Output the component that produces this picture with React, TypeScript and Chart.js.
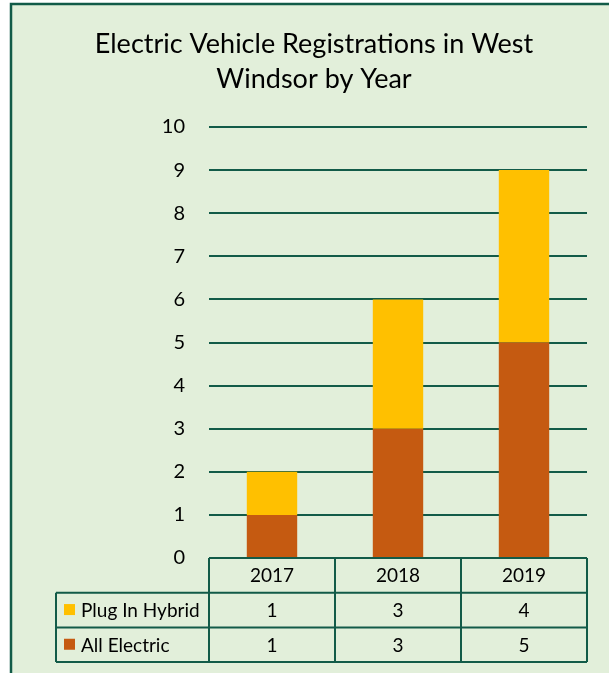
import React, { useEffect, useRef } from "react";
import { Chart, registerables } from "chart.js";

Chart.register(...registerables);

const years = ["2017", "2018", "2019"];
const plugInHybrid = [1, 3, 4];
const allElectric = [1, 3, 5];
const titleLines = ["Electric Vehicle Registrations in West", "Windsor by Year"];
const seriesNames = ["Plug In Hybrid", "All Electric"];
const yMin = 0;
const yMax = 10;
const yStep = 1;

const DARK = "#125B48";
const BG = "#E2EFDA";
const ORANGE = "#C55A11";
const YELLOW = "#FFC000";
const FONT = "Lato, 'Open Sans', sans-serif";

const framePlugin = {
  id: "frame",
  beforeDraw(chart: any) {
    const { ctx, width, height } = chart;
    ctx.save();
    ctx.fillStyle = "#ffffff";
    ctx.fillRect(0, 0, width, height);
    ctx.fillStyle = BG;
    ctx.fillRect(11, 4, width, height);
    ctx.strokeStyle = DARK;
    ctx.lineWidth = 2.5;
    ctx.beginPath();
    ctx.moveTo(11, height + 5);
    ctx.lineTo(11, 4);
    ctx.lineTo(width + 5, 4);
    ctx.stroke();
    ctx.restore();
  },
};

const titleTablePlugin = {
  id: "titleTable",
  afterDraw(chart: any) {
    const { ctx, chartArea } = chart;
    const { left, right, bottom } = chartArea;
    ctx.save();
    // title
    ctx.fillStyle = "#000";
    ctx.font = `27px ${FONT}`;
    ctx.textAlign = "center";
    ctx.textBaseline = "alphabetic";
    const cx = 314;
    ctx.fillText(titleLines[0], cx, 53);
    ctx.fillText(titleLines[1], cx, 88);

    // data table
    const n = years.length;
    const colW = (right - left) / n;
    const rowH = 34.7;
    const labelLeft = 56;
    const y0 = bottom;
    const y1 = y0 + rowH;
    const y2 = y1 + rowH;
    const y3 = y2 + rowH;
    ctx.strokeStyle = DARK;
    ctx.lineWidth = 2;
    ctx.beginPath();
    ctx.moveTo(left, y0);
    ctx.lineTo(right, y0);
    [y1, y2, y3].forEach((y) => {
      ctx.moveTo(labelLeft, y);
      ctx.lineTo(right, y);
    });
    for (let i = 0; i <= n; i++) {
      const x = left + i * colW;
      ctx.moveTo(x, y0);
      ctx.lineTo(x, y3);
    }
    ctx.moveTo(labelLeft, y1);
    ctx.lineTo(labelLeft, y3);
    ctx.stroke();

    ctx.fillStyle = "#000";
    ctx.font = `19px ${FONT}`;
    ctx.textBaseline = "middle";
    ctx.textAlign = "center";
    const rows = [plugInHybrid, allElectric];
    years.forEach((yr, i) => {
      const x = left + (i + 0.5) * colW;
      ctx.fillText(yr, x, (y0 + y1) / 2 + 1);
      rows.forEach((r, j) => {
        const ry = y1 + (j + 0.5) * rowH + 1;
        ctx.fillText(String(r[i]), x, ry);
      });
    });
    const colors = [YELLOW, ORANGE];
    seriesNames.forEach((name, j) => {
      const ry = y1 + (j + 0.5) * rowH;
      ctx.fillStyle = colors[j];
      ctx.fillRect(64, ry - 6, 11, 11);
      ctx.fillStyle = "#000";
      ctx.textAlign = "left";
      ctx.fillText(name, 81, ry + 1);
    });
    ctx.restore();
  },
};

export default function App() {
  const ref = useRef<HTMLCanvasElement | null>(null);
  useEffect(() => {
    if (!ref.current) return;
    const chart = new Chart(ref.current, {
      type: "bar",
      data: {
        labels: years,
        datasets: [
          {
            label: seriesNames[1],
            data: allElectric,
            backgroundColor: ORANGE,
            barPercentage: 0.8,
            categoryPercentage: 0.5,
          },
          {
            label: seriesNames[0],
            data: plugInHybrid,
            backgroundColor: YELLOW,
            barPercentage: 0.8,
            categoryPercentage: 0.5,
          },
        ],
      },
      options: {
        responsive: false,
        animation: false,
        devicePixelRatio: 1,
        layout: { padding: { left: 0, right: 22, top: 127, bottom: 115 } },
        plugins: {
          legend: { display: false },
          tooltip: { enabled: false },
          title: { display: false },
        },
        scales: {
          x: { stacked: true, display: false },
          y: {
            stacked: true,
            min: yMin,
            max: yMax,
            ticks: {
              stepSize: yStep,
              padding: 24,
              color: "#000",
              font: { family: FONT, size: 20 },
            },
            grid: { color: DARK, lineWidth: 2, drawTicks: false },
            border: { display: false },
            afterFit: (s: any) => {
              s.width = 209;
            },
          },
        },
      },
      plugins: [framePlugin, titleTablePlugin],
    });
    return () => chart.destroy();
  }, []);
  return (
    <div style={{ position: "fixed", left: 0, top: 0, width: 609, height: 673 }}>
      <canvas ref={ref} width={609} height={673} style={{ display: "block" }} />
    </div>
  );
}
